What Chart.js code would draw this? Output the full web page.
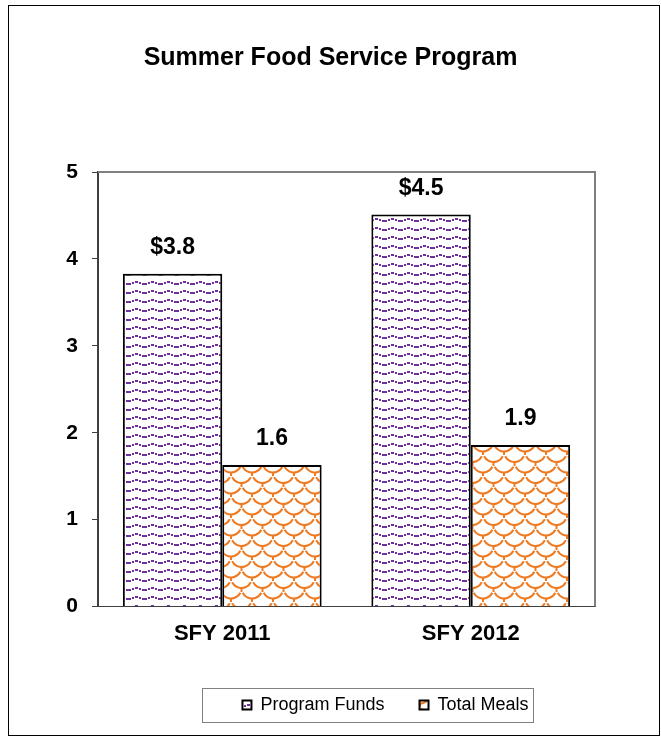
<!DOCTYPE html>
<html>
<head>
<meta charset="utf-8">
<script src="https://cdn.jsdelivr.net/npm/chart.js@4.4.1/dist/chart.umd.min.js"></script>
<style>
  html, body { margin: 0; padding: 0; background: #fff; }
  #chart { display: block; }
</style>
</head>
<body>
<canvas id="chart" width="661" height="736"></canvas>
<script>
// data
const categories = ['SFY 2011', 'SFY 2012'];
const seriesNames = ['Program Funds', 'Total Meals'];
const fundsValues = [3.83, 4.51];
const mealsValues = [1.63, 1.86];
const fundsLabels = ['$3.8', '$4.5'];
const mealsLabels = ['1.6', '1.9'];
const yTicks = [0, 1, 2, 3, 4, 5];

const FONT = 'Arial, "Liberation Sans", sans-serif';

// purple wavy dashes
function makeWavePattern() {
    const c = document.createElement('canvas');
    c.width = 16; c.height = 9;
    const g = c.getContext('2d');
    g.fillStyle = '#fff';
    g.fillRect(0, 0, 16, 9);
    g.fillStyle = '#7030a0';
    g.fillRect(0, 4, 3, 2);
    g.fillRect(4, 3, 2, 2);
    g.fillRect(7, 2, 3, 2);
    g.fillRect(11, 3, 2, 2);
    g.fillRect(14, 4, 2, 2);
    return g.createPattern(c, 'repeat');
}

// orange interlocking shapes
function makeScalePattern() {
    const c = document.createElement('canvas');
    c.width = 21; c.height = 21;
    const g = c.getContext('2d');
    g.fillStyle = '#fff';
    g.fillRect(0, 0, 21, 21);
    g.strokeStyle = '#ee7a22';
    g.lineWidth = 2;
    const arcs = [[10.5, 10.5], [0, 0], [21, 0], [10.5, -10.5], [0, 21], [21, 21]];
    arcs.forEach(p => {
        g.beginPath();
        g.arc(p[0], p[1], 10.5, 0.15 * Math.PI, 0.85 * Math.PI);
        g.stroke();
    });
    g.beginPath();
    g.moveTo(10.5, 0); g.lineTo(10.5, 4);
    g.moveTo(0, 10.5); g.lineTo(0, 14);
    g.moveTo(21, 10.5); g.lineTo(21, 14);
    g.stroke();
    return g.createPattern(c, 'repeat');
}

const wave = makeWavePattern();
const scales = makeScalePattern();

// frame round the whole picture, border of the plot area, legend box
const framePlugin = {
    id: 'frame',
    afterLayout(chart) {
        // the legend sits right of centre in the original
        chart.legend.left += 55;
        chart.legend.right += 55;
    },
    beforeDraw(chart) {
        const ctx = chart.ctx;
        ctx.save();
        ctx.fillStyle = '#fff';
        ctx.fillRect(0, 0, chart.width, chart.height);
        ctx.strokeStyle = '#000';
        ctx.lineWidth = 1;
        ctx.strokeRect(8.5, 5.5, 651, 730);
        ctx.restore();
    },
    afterDraw(chart) {
        const ctx = chart.ctx;
        const a = chart.chartArea;
        ctx.save();
        ctx.strokeStyle = '#808080';
        ctx.lineWidth = 2;
        ctx.beginPath();
        ctx.moveTo(a.left, a.top);
        ctx.lineTo(a.right, a.top);
        ctx.lineTo(a.right, a.bottom);
        ctx.stroke();

        const boxes = chart.legend.legendHitBoxes;
        if (boxes && boxes.length) {
            const first = boxes[0];
            const last = boxes[boxes.length - 1];
            const left = first.left - 40;
            const right = last.left + last.width + 5;
            const top = first.top + first.height / 2 - 17;
            ctx.strokeStyle = '#808080';
            ctx.lineWidth = 1;
            ctx.strokeRect(Math.round(left) + 0.5, Math.round(top) + 0.5, Math.round(right - left), 34);
        }
        ctx.restore();
    }
};

// value labels above each bar
const valueLabelPlugin = {
    id: 'valueLabels',
    afterDatasetsDraw(chart) {
        const ctx = chart.ctx;
        const texts = [fundsLabels, mealsLabels];
        ctx.save();
        ctx.font = 'bold 23px ' + FONT;
        ctx.fillStyle = '#000';
        ctx.textAlign = 'center';
        ctx.textBaseline = 'middle';
        chart.data.datasets.forEach((ds, i) => {
            chart.getDatasetMeta(i).data.forEach((bar, j) => {
                ctx.fillText(texts[i][j], bar.x, bar.y - 26);
            });
        });
        ctx.restore();
    }
};

new Chart(document.getElementById('chart'), {
    type: 'bar',
    data: {
        labels: categories,
        datasets: [
            {
                label: seriesNames[0],
                data: fundsValues,
                backgroundColor: wave,
                borderColor: '#000',
                borderWidth: 2,
                categoryPercentage: 0.8,
                barPercentage: 1.0
            },
            {
                label: seriesNames[1],
                data: mealsValues,
                backgroundColor: scales,
                borderColor: '#000',
                borderWidth: 2,
                categoryPercentage: 0.8,
                barPercentage: 1.0
            }
        ]
    },
    options: {
        responsive: false,
        animation: false,
        layout: {
            padding: { left: 0, right: 0, top: 0, bottom: 12 }
        },
        scales: {
            x: {
                grid: { display: false, drawTicks: false },
                border: { display: true, color: '#404040', width: 1 },
                ticks: {
                    color: '#000',
                    font: { family: FONT, size: 22, weight: 'bold' },
                    padding: 14
                }
            },
            y: {
                min: 0,
                max: 5,
                afterBuildTicks(scale) {
                    scale.ticks = yTicks.map(v => ({ value: v }));
                },
                afterFit(scale) {
                    scale.width = 98;
                },
                grid: {
                    drawOnChartArea: false,
                    drawTicks: true,
                    tickLength: 6,
                    color: '#404040'
                },
                border: { display: true, color: '#404040', width: 2 },
                ticks: {
                    color: '#000',
                    font: { family: FONT, size: 21, weight: 'bold' },
                    padding: 14
                }
            },
            // empty axis that keeps the space right of the plot
            spacer: {
                type: 'linear',
                position: 'right',
                grid: { display: false, drawTicks: false },
                border: { display: false },
                ticks: { display: false },
                afterFit(scale) {
                    scale.width = 66;
                }
            }
        },
        plugins: {
            title: {
                display: true,
                text: 'Summer Food Service Program',
                color: '#000',
                font: { family: FONT, size: 25, weight: 'bold' },
                padding: { top: 43, bottom: 99 }
            },
            legend: {
                position: 'bottom',
                labels: {
                    color: '#000',
                    font: { family: FONT, size: 18 },
                    boxWidth: 9,
                    boxHeight: 9,
                    padding: 35
                }
            },
            tooltip: { enabled: false }
        }
    },
    plugins: [framePlugin, valueLabelPlugin]
});
</script>
</body>
</html>
